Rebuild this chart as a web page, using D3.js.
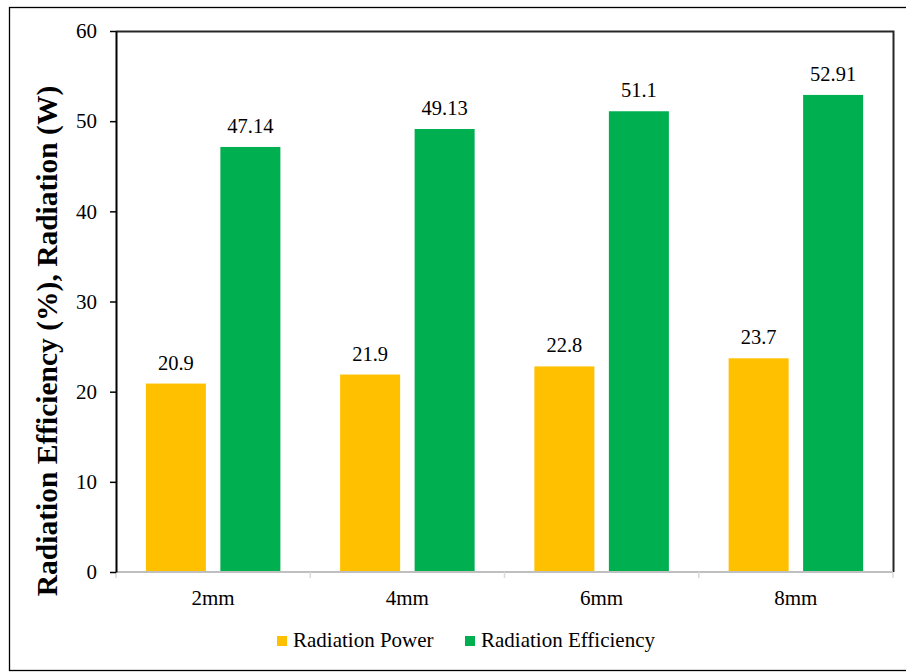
<!DOCTYPE html>
<html>
<head>
<meta charset="utf-8">
<script src="https://cdn.jsdelivr.net/npm/d3@7"></script>
<style>
  html, body { margin: 0; padding: 0; background: #fff; }
  svg { display: block; }
  svg text { font-family: "Liberation Serif", "Times New Roman", serif; }
</style>
</head>
<body>
<script>
// Chart data
const categories = ["2mm", "4mm", "6mm", "8mm"];
const seriesNames = ["Radiation Power", "Radiation Efficiency"];
const radiationPower = [20.9, 21.9, 22.8, 23.7];
const radiationEfficiency = [47.14, 49.13, 51.1, 52.91];
const yTicks = [0, 10, 20, 30, 40, 50, 60];
const colors = ["#FFC000", "#00B050"];

const W = 906, H = 672;
const margin = { left: 116, top: 31, right: 893, bottom: 572 };
const FONT = "Liberation Serif";

const svg = d3.select("body").append("svg")
  .attr("width", W).attr("height", H);

// outer frame
svg.append("rect")
  .attr("x", 9.5).attr("y", 7.5)
  .attr("width", W + 10).attr("height", 663)
  .attr("fill", "none").attr("stroke", "#000").attr("stroke-width", 1.3);

const x = d3.scaleBand().domain(categories).range([margin.left, margin.right]);
const y = d3.scaleLinear().domain([0, 60]).range([margin.bottom, margin.top]);

const barW = 60, gap = 14.5;
const series = [radiationPower, radiationEfficiency];

// plot area border (top and right)
svg.append("path")
  .attr("d", `M${margin.left},${margin.top + 0.5}H${margin.right + 0.5}V${margin.bottom}`)
  .attr("fill", "none").attr("stroke", "#262626").attr("stroke-width", 2);

// bars with value labels
series.forEach((vals, si) => {
  const offset = si === 0 ? -(gap / 2 + barW) : gap / 2;
  const g = svg.append("g");
  g.selectAll("rect").data(vals).join("rect")
    .attr("x", (d, i) => x(categories[i]) + x.bandwidth() / 2 + offset)
    .attr("y", d => y(d))
    .attr("width", barW)
    .attr("height", d => y(0) - y(d))
    .attr("fill", colors[si]);
  g.selectAll("text").data(vals).join("text")
    .attr("x", (d, i) => x(categories[i]) + x.bandwidth() / 2 + offset + barW / 2)
    .attr("y", d => y(d) - 14)
    .attr("text-anchor", "middle")
    .style("font-family", FONT).style("font-size", "20.5px")
    .attr("fill", "#000")
    .text(d => d);
});

// x axis
const xAxis = svg.append("g").attr("transform", `translate(0,${margin.bottom})`);
xAxis.append("line")
  .attr("x1", margin.left).attr("x2", margin.right)
  .attr("stroke", "#bfbfbf").attr("stroke-width", 2);
const boundaries = categories.map(c => x(c)).concat([margin.right]);
xAxis.selectAll("line.tick").data(boundaries).join("line")
  .attr("class", "tick")
  .attr("x1", d => d).attr("x2", d => d).attr("y1", 0).attr("y2", 6)
  .attr("stroke", "#d9d9d9").attr("stroke-width", 1.5);
xAxis.selectAll("text").data(categories).join("text")
  .attr("x", d => x(d) + x.bandwidth() / 2)
  .attr("y", 33)
  .attr("text-anchor", "middle")
  .style("font-family", FONT).style("font-size", "21px")
  .attr("fill", "#000")
  .text(d => d);

// y axis
const yAxis = svg.append("g")
  .attr("transform", `translate(${margin.left},0)`)
  .call(d3.axisLeft(y).tickValues(yTicks).tickSize(6).tickPadding(13).tickSizeOuter(0));
yAxis.select(".domain").attr("stroke", "#000").attr("stroke-width", 2);
yAxis.selectAll(".tick line").attr("stroke", "#000").attr("stroke-width", 1.5);
yAxis.selectAll(".tick text")
  .style("font-family", FONT).style("font-size", "21px")
  .attr("fill", "#000");

// y axis title
svg.append("text")
  .attr("transform", `translate(56.5,341) rotate(-90)`)
  .attr("text-anchor", "middle")
  .style("font-family", FONT).style("font-size", "29.5px").style("font-weight", "bold")
  .attr("fill", "#000")
  .text("Radiation Efficiency (%), Radiation (W)");

// legend
const legendX = [277, 465];
const legend = svg.append("g");
seriesNames.forEach((name, i) => {
  legend.append("rect")
    .attr("x", legendX[i]).attr("y", 636)
    .attr("width", 10).attr("height", 10)
    .attr("fill", colors[i]);
  legend.append("text")
    .attr("x", legendX[i] + 16).attr("y", 647)
    .style("font-family", FONT).style("font-size", "21px")
    .attr("fill", "#000")
    .text(name);
});
</script>
</body>
</html>
